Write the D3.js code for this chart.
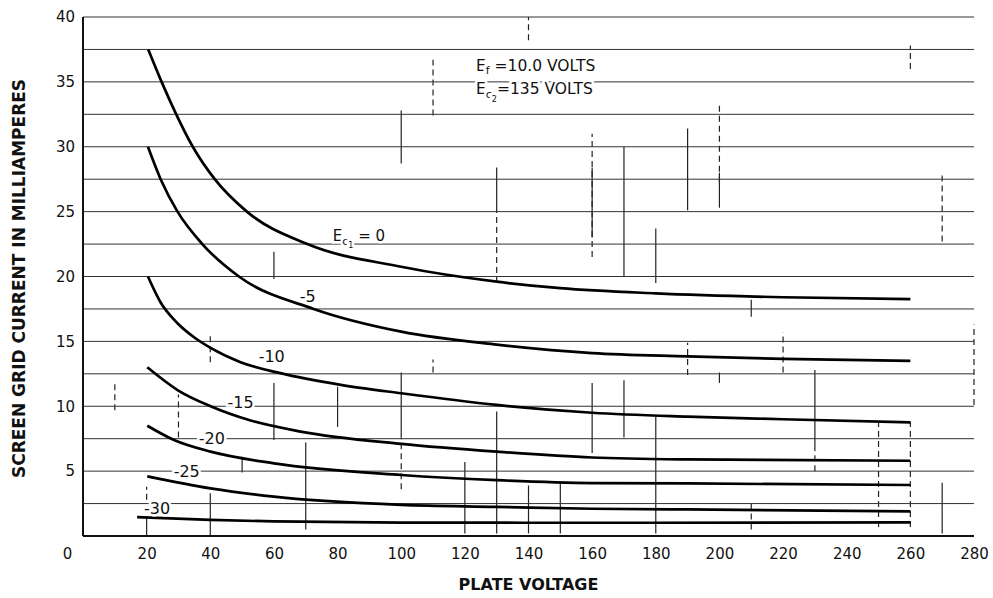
<!DOCTYPE html>
<html>
<head>
<meta charset="utf-8">
<script src="https://cdn.jsdelivr.net/npm/d3@7"></script>
<style>
  html, body { margin: 0; padding: 0; background: #fff; }
  svg { display: block; }
  text { font-family: "DejaVu Sans", sans-serif; fill: #111; }
</style>
</head>
<body>
<svg id="chart" width="993" height="598"></svg>
<script>
// ---------- DATA ----------
const xTicks = [0, 20, 40, 60, 80, 100, 120, 140, 160, 180, 200, 220, 240, 260, 280];
const yTicks = [5, 10, 15, 20, 25, 30, 35, 40];
const gridLevels = [2.5, 5, 7.5, 10, 12.5, 15, 17.5, 20, 22.5, 25, 27.5, 30, 32.5, 35, 37.5, 40];

// plate voltage (V), screen grid current (mA)
const curveEc0   = [[20.5,37.5],[24.7,35],[29.3,32.5],[34.5,30],[41.4,27.5],[51.5,25],[70.5,22.5],[100,20.75],[130,19.6],[150,19.1],[180,18.7],[220,18.4],[260,18.25]];
const curveEc5   = [[20.4,30],[24.4,27.5],[29.7,25],[37.5,22.5],[49,20],[72.5,17.5],[100,15.75],[130,14.75],[160,14.1],[190,13.85],[220,13.65],[260,13.5]];
const curveEc10  = [[20.4,20],[24.4,18.0],[29.7,16.4],[35,15.3],[40.1,14.5],[49.5,13.4],[62,12.55],[81,11.65],[100,11],[130,10.1],[160,9.5],[190,9.2],[220,9.0],[260,8.75]];
const curveEc15  = [[20.2,13],[29.7,11.25],[40.1,10],[52.7,8.9],[68.4,8.05],[100,7.1],[130,6.5],[160,6.05],[190,5.9],[260,5.8]];
const curveEc20  = [[20.2,8.5],[28.6,7.4],[40.1,6.5],[60,5.6],[100,4.7],[130,4.3],[160,4.08],[190,4.05],[260,3.93]];
const curveEc25  = [[20.2,4.6],[40.1,3.67],[60,3.03],[100,2.4],[130,2.25],[160,2.1],[190,2.05],[260,1.9]];
const curveEc30  = [[17,1.45],[40,1.25],[60,1.12],[100,1.03],[180,1.02],[260,1.05]];
const curves = [curveEc0, curveEc5, curveEc10, curveEc15, curveEc20, curveEc25, curveEc30];

// curve labels: text, plate voltage, current (label centre)
const curveLabelText = ["-5", "-10", "-15", "-20", "-25", "-30"];
const curveLabelV    = [70.6, 59.3, 49.5, 40.5, 32.6, 23.3];
const curveLabelI    = [18.45, 13.8, 10.3, 7.55, 4.95, 2.1];

// visible fragments of the faint vertical grid: [V, I from, I to, dashed]
const gridFragments = [
  [60,19.8,21.9,0],[100,28.7,32.8,0],[110,32.4,36.7,1],[130,24.9,28.4,0],[130,19.5,24.9,1],
  [160,23.0,28.4,0],[160,21.5,31.0,1],[170,20.0,30.0,0],[180,19.5,23.7,0],[190,25.1,31.4,0],
  [200,27.3,33.4,1],[200,25.3,28.0,0],[270,22.7,27.8,1],[140,38.2,40,1],[260,36,37.8,1],
  [40,13.4,15.7,1],[40,0,3.3,0],[20,0,1.5,0],[20,2.8,3.8,1],[30,7.6,10.9,1],[10,9.7,11.8,1],
  [60,7.4,11.8,0],[70,0.5,7.2,0],[50,4.9,6.1,0],[80,8.4,11.5,0],[100,7.6,12.6,0],
  [100,3.6,7.6,1],[110,12.6,13.6,1],[120,0.2,5.7,0],[130,0.2,9.6,0],[140,0.2,3.9,0],
  [150,0.2,4.1,0],[160,6.4,11.8,0],[170,7.6,12.0,0],[180,0.2,9.2,0],[210,16.9,18.2,0],
  [210,0.5,2.5,1],[200,11.8,12.6,0],[190,12.4,14.9,1],[220,12.6,15.7,1],[230,6.6,12.8,0],
  [230,5.0,6.6,1],[250,0.7,8.8,1],[260,0.7,8.8,1],[270,0.2,4.1,0],[280,10.1,16.3,1]
];

// ---------- DRAWING ----------
const svg = d3.select("#chart");
const x = d3.scaleLinear().domain([0, 280]).range([83, 974]);
const y = d3.scaleLinear().domain([0, 40]).range([536, 17]);

// vertical grid fragments
svg.append("g").selectAll("line").data(gridFragments).join("line")
  .attr("x1", d => x(d[0])).attr("x2", d => x(d[0]))
  .attr("y1", d => y(d[1])).attr("y2", d => y(d[2]))
  .attr("stroke", "#222").attr("stroke-width", 1.2)
  .attr("stroke-dasharray", d => d[3] ? "6,4" : null);

// horizontal grid
svg.append("g").selectAll("line").data(gridLevels).join("line")
  .attr("x1", x(0)).attr("x2", x(280))
  .attr("y1", d => y(d)).attr("y2", d => y(d))
  .attr("stroke", "#333").attr("stroke-width", 1);

// axes lines
svg.append("line").attr("x1", x(0)).attr("x2", x(0)).attr("y1", y(0)).attr("y2", y(40))
  .attr("stroke", "#111").attr("stroke-width", 2);
svg.append("line").attr("x1", x(0)).attr("x2", x(280)).attr("y1", y(0)).attr("y2", y(0))
  .attr("stroke", "#111").attr("stroke-width", 1.8);

// axes labels via d3 axes
const gx = svg.append("g").attr("transform", `translate(0,${y(0)})`)
  .call(d3.axisBottom(x).tickValues(xTicks).tickSize(0).tickPadding(12).tickFormat(d3.format("d")));
gx.select(".domain").remove();
gx.selectAll("text").style("font-size", "15px").style("font-family", "'DejaVu Sans', sans-serif").style("fill", "#111")
  .attr("dx", d => d === 0 ? -16 : 0);

const gy = svg.append("g").attr("transform", `translate(${x(0)},0)`)
  .call(d3.axisLeft(y).tickValues(yTicks).tickSize(0).tickPadding(8).tickFormat(d3.format("d")));
gy.select(".domain").remove();
gy.selectAll("text").style("font-size", "15px").style("font-family", "'DejaVu Sans', sans-serif").style("fill", "#111");

// curves
const line = d3.line().x(d => x(d[0])).y(d => y(d[1])).curve(d3.curveMonotoneX);
svg.append("g").selectAll("path").data(curves).join("path")
  .attr("d", line).attr("fill", "none").attr("stroke", "#000")
  .attr("stroke-width", 2.7).attr("stroke-linecap", "butt");

// curve labels (white halo breaks the grid lines as in the print)
svg.append("g").selectAll("text").data(curveLabelText).join("text")
  .attr("x", (d, i) => x(curveLabelV[i])).attr("y", (d, i) => y(curveLabelI[i]))
  .attr("text-anchor", "middle").attr("dominant-baseline", "central")
  .style("font-size", "16px")
  .attr("stroke", "#fff").attr("stroke-width", 5).attr("paint-order", "stroke")
  .text(d => d);

// Ec1 = 0 label
const ec1 = svg.append("text").attr("x", x(78.5)).attr("y", y(22.75))
  .style("font-size", "15px")
  .attr("stroke", "#fff").attr("stroke-width", 5).attr("paint-order", "stroke");
ec1.append("tspan").text("E");
ec1.append("tspan").attr("dy", 4).style("font-size", "11px").text("c");
ec1.append("tspan").attr("dy", 3).style("font-size", "8px").text("1");
ec1.append("tspan").attr("dy", -7).text(" = 0");

// operating conditions
const ann = svg.append("g");
const t1 = ann.append("text").attr("x", x(123.5)).attr("y", y(35.8)).style("font-size", "15.5px")
  .attr("stroke", "#fff").attr("stroke-width", 5).attr("paint-order", "stroke");
t1.append("tspan").text("E");
t1.append("tspan").attr("dy", 3).style("font-size", "11px").text("f");
t1.append("tspan").attr("dy", -3).text(" =10.0 VOLTS");
const t2 = ann.append("text").attr("x", x(123.5)).attr("y", y(34.05)).style("font-size", "15.5px")
  .attr("stroke", "#fff").attr("stroke-width", 5).attr("paint-order", "stroke");
t2.append("tspan").text("E");
t2.append("tspan").attr("dy", 4).style("font-size", "11px").text("c");
t2.append("tspan").attr("dy", 4).style("font-size", "8px").text("2");
t2.append("tspan").attr("dy", -8).text("=135 VOLTS");

// axis titles
svg.append("text").attr("x", (x(0) + x(280)) / 2).attr("y", 590)
  .attr("text-anchor", "middle").style("font-size", "16px").style("font-weight", "700")
  .text("PLATE VOLTAGE");
svg.append("text").attr("transform", `translate(25,${(y(0) + y(40)) / 2 + 2}) rotate(-90)`)
  .attr("text-anchor", "middle").style("font-size", "17px").style("font-weight", "700")
  .text("SCREEN GRID CURRENT IN MILLIAMPERES");
</script>
</body>
</html>
